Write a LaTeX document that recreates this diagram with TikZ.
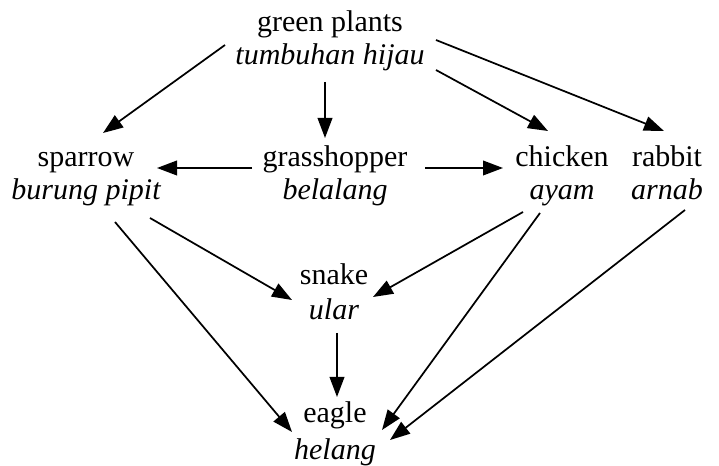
\documentclass[tikz,border=0pt]{standalone}
\usepackage{fontspec}
\setmainfont{Liberation Serif}
\usetikzlibrary{arrows.meta}
\begin{document}
\begin{tikzpicture}[x=0.75pt,y=-0.75pt,
  en/.style={anchor=base,inner sep=0pt,font=\fontsize{22.5}{27}\selectfont},
  ms/.style={anchor=base,inner sep=0pt,font=\fontsize{22.5}{27}\selectfont\itshape},
  arr/.style={line width=1.3pt,-{Triangle[length=15pt,width=11pt]}}]
\useasboundingbox (0,0) rectangle (719,466);
% nodes
\node[en] (gp)  at (330,32)  {green plants};
\node[ms] (gpm) at (330,65)  {tumbuhan hijau};
\node[en] (sp)  at (86,167)  {sparrow};
\node[ms] (spm) at (86,200)  {burung pipit};
\node[en] (gh)  at (335,167) {grasshopper};
\node[ms] (ghm) at (335,200) {belalang};
\node[en] (ch)  at (562,167) {chicken};
\node[ms] (chm) at (562,200) {ayam};
\node[en] (rb)  at (667,167) {rabbit};
\node[ms] (rbm) at (667,200) {arnab};
\node[en] (sn)  at (334,285) {snake};
\node[ms] (snm) at (334,320) {ular};
\node[en] (eg)  at (335,423) {eagle};
\node[ms] (egm) at (335,460) {helang};
% connectors
\draw[arr] ([shift={(-105,13)}]gp.base) -- ([shift={(17,-34)}]sp.base);
\draw[arr] ([shift={(-5,17)}]gpm.base) -- ([shift={(-10,-29)}]gh.base);
\draw[arr] ([shift={(106,5)}]gpm.base) -- ([shift={(-14,-36)}]ch.base);
\draw[arr] ([shift={(106,8)}]gp.base) -- ([shift={(-3,-36)}]rb.base);
\draw[arr] ([shift={(-83,1)}]gh.base) -- ([shift={(71,1)}]sp.base);
\draw[arr] ([shift={(90,1)}]gh.base) -- ([shift={(-59,1)}]ch.base);
\draw[arr] ([shift={(64,18)}]spm.base) -- ([shift={(-42,15)}]sn.base);
\draw[arr] ([shift={(29,22)}]spm.base) -- ([shift={(-43,9)}]eg.base);
\draw[arr] ([shift={(-39,12)}]chm.base) -- ([shift={(39,12)}]sn.base);
\draw[arr] ([shift={(-22,13)}]chm.base) -- ([shift={(47,7)}]eg.base);
\draw[arr] ([shift={(18,10)}]rbm.base) -- ([shift={(55,17)}]eg.base);
\draw[arr] ([shift={(3,13)}]snm.base) -- ([shift={(2,-26)}]eg.base);
\end{tikzpicture}
\end{document}
